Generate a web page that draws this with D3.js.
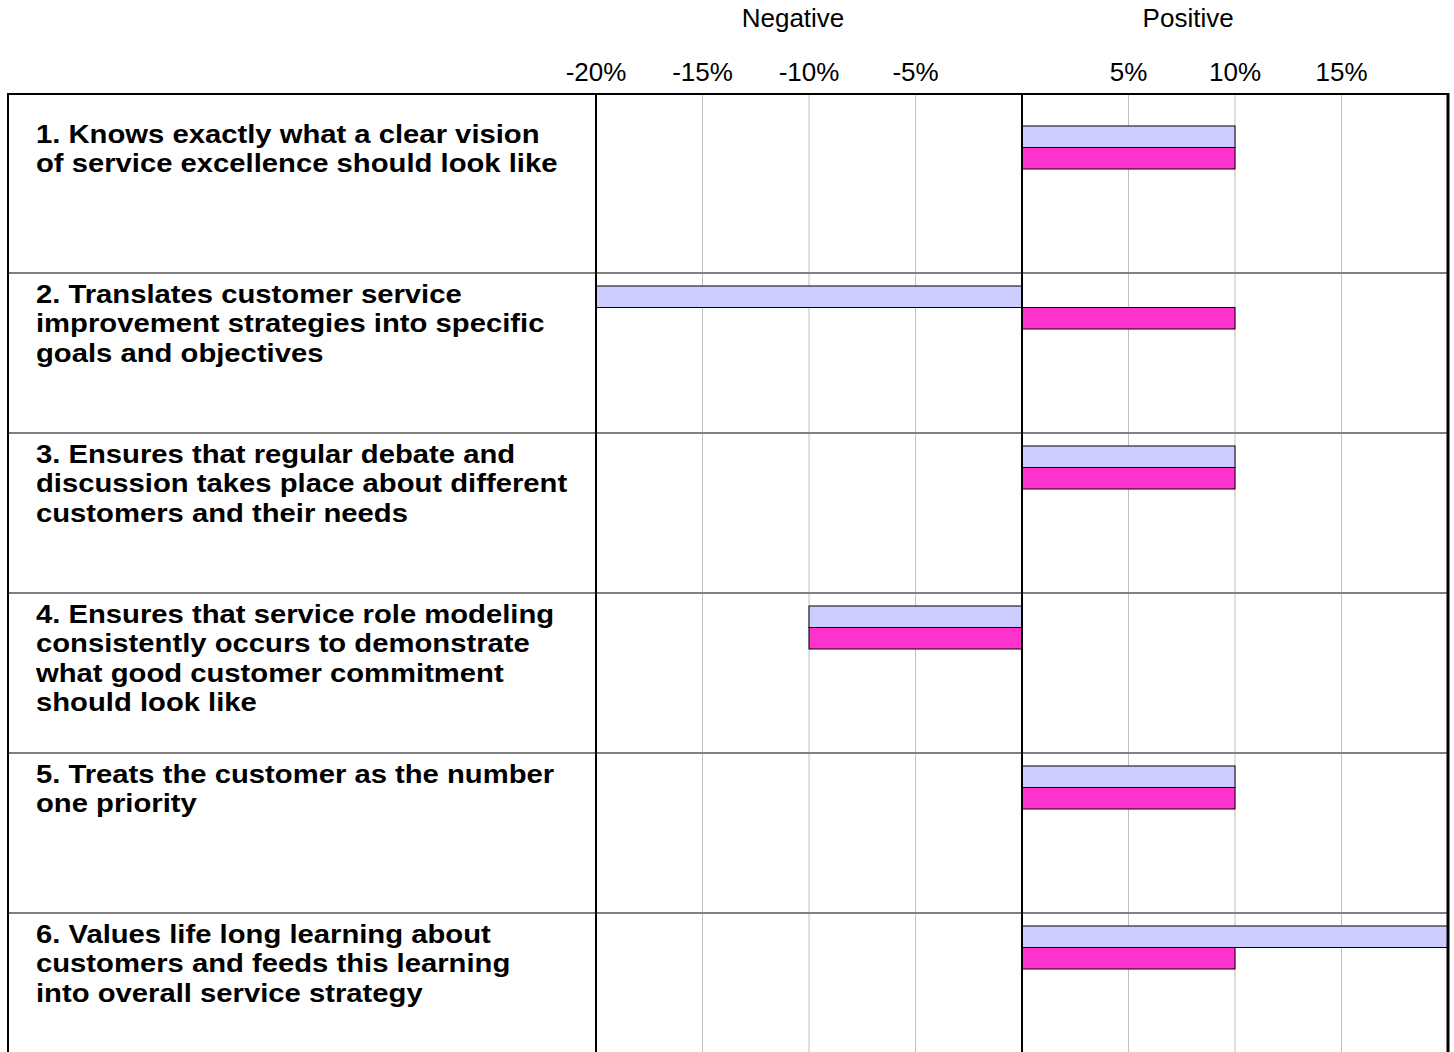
<!DOCTYPE html>
<html>
<head>
<meta charset="utf-8">
<script src="https://cdn.jsdelivr.net/npm/d3@7"></script>
<style>
  html, body { margin: 0; padding: 0; background: #fff; }
  svg { display: block; font-family: "Liberation Sans", Arial, sans-serif; }
</style>
</head>
<body>
<div id="chart"></div>
<script>
// ── Data ─────────────────────────────────────────────────────────────────────
const statements = [
  ['1. Knows exactly what a clear vision', 'of service excellence should look like'],
  ['2. Translates customer service', 'improvement strategies into specific', 'goals and objectives'],
  ['3. Ensures that regular debate and', 'discussion takes place about different', 'customers and their needs'],
  ['4. Ensures that service role modeling', 'consistently occurs to demonstrate', 'what good customer commitment', 'should look like'],
  ['5. Treats the customer as the number', 'one priority'],
  ['6. Values life long learning about', 'customers and feeds this learning', 'into overall service strategy']
];
const seriesA = [10, -20, 10, -10, 10, 20];   // lavender bars
const seriesB = [10, 10, 10, -10, 10, 10];    // magenta bars
const tickVals = [-20, -15, -10, -5, 5, 10, 15];
const gridVals = [-15, -10, -5, 5, 10, 15];

// ── Layout ───────────────────────────────────────────────────────────────────
const W = 1454, H = 1052;
const left = 8, boxTop = 94, rowTop = 113, rowH = 160;

const svg = d3.select('#chart').append('svg')
  .attr('width', W).attr('height', H);

const x = d3.scaleLinear().domain([-20, 20]).range([596, 1448]);
const y = d3.scaleBand().domain(d3.range(statements.length))
  .range([rowTop, rowTop + rowH * statements.length]);
const sub = d3.scaleBand().domain(['a', 'b']).range([13, 56]);

// grid lines
svg.append('g').selectAll('line')
  .data(gridVals).join('line')
    .attr('x1', d => x(d)).attr('x2', d => x(d))
    .attr('y1', boxTop).attr('y2', H)
    .attr('stroke', '#c0c0c0').attr('stroke-width', 1);

// row separators
svg.append('g').selectAll('line')
  .data(d3.range(1, statements.length)).join('line')
    .attr('x1', left).attr('x2', x(20))
    .attr('y1', d => y(d)).attr('y2', d => y(d))
    .attr('stroke', '#808080').attr('stroke-width', 2);

// bars
const rows = svg.append('g').selectAll('g')
  .data(statements.map((s, i) => ({ i, a: seriesA[i], b: seriesB[i] })))
  .join('g')
    .attr('transform', d => `translate(0,${y(d.i)})`);

rows.append('rect')
  .attr('x', d => x(Math.min(0, d.a)))
  .attr('width', d => Math.abs(x(d.a) - x(0)))
  .attr('y', sub('a')).attr('height', sub.bandwidth())
  .attr('fill', '#ccccff').attr('stroke', '#000').attr('stroke-width', 1);

rows.append('rect')
  .attr('x', d => x(Math.min(0, d.b)))
  .attr('width', d => Math.abs(x(d.b) - x(0)))
  .attr('y', sub('b')).attr('height', sub.bandwidth())
  .attr('fill', '#ff33cc').attr('stroke', '#000').attr('stroke-width', 1);

// frame lines
const frame = svg.append('g').attr('stroke', '#000');
frame.append('line').attr('x1', left).attr('x2', x(20) + 1)
  .attr('y1', boxTop).attr('y2', boxTop).attr('stroke-width', 2);
frame.append('line').attr('x1', left).attr('x2', left)
  .attr('y1', boxTop - 1).attr('y2', H).attr('stroke-width', 2);
frame.append('line').attr('x1', x(-20)).attr('x2', x(-20))
  .attr('y1', boxTop).attr('y2', H).attr('stroke-width', 2);
frame.append('line').attr('x1', x(0)).attr('x2', x(0))
  .attr('y1', boxTop).attr('y2', H).attr('stroke-width', 2);
frame.append('line').attr('x1', x(20)).attr('x2', x(20))
  .attr('y1', boxTop - 1).attr('y2', H).attr('stroke-width', 3);

// tick labels
svg.append('g').selectAll('text')
  .data(tickVals).join('text')
    .attr('x', d => x(d)).attr('y', 81)
    .attr('text-anchor', 'middle')
    .attr('font-size', 26).attr('fill', '#000')
    .text(d => d + '%');

// half headers
svg.append('text').attr('x', x(-10.75)).attr('y', 27)
  .attr('text-anchor', 'middle').attr('font-size', 26).text('Negative');
svg.append('text').attr('x', x(7.8)).attr('y', 27)
  .attr('text-anchor', 'middle').attr('font-size', 26).text('Positive');

// statement labels (the source lettering is wide and squat, so stretch it)
rows.append('g')
  .attr('transform', 'translate(36,0) scale(1.17,1)')
  .append('text')
  .attr('font-size', 25).attr('font-weight', 'bold').attr('fill', '#000')
  .selectAll('tspan')
  .data(d => statements[d.i])
  .join('tspan')
    .attr('x', 0)
    .attr('y', (d, k) => 30 + k * 29.5)
    .text(d => d);
</script>
</body>
</html>
